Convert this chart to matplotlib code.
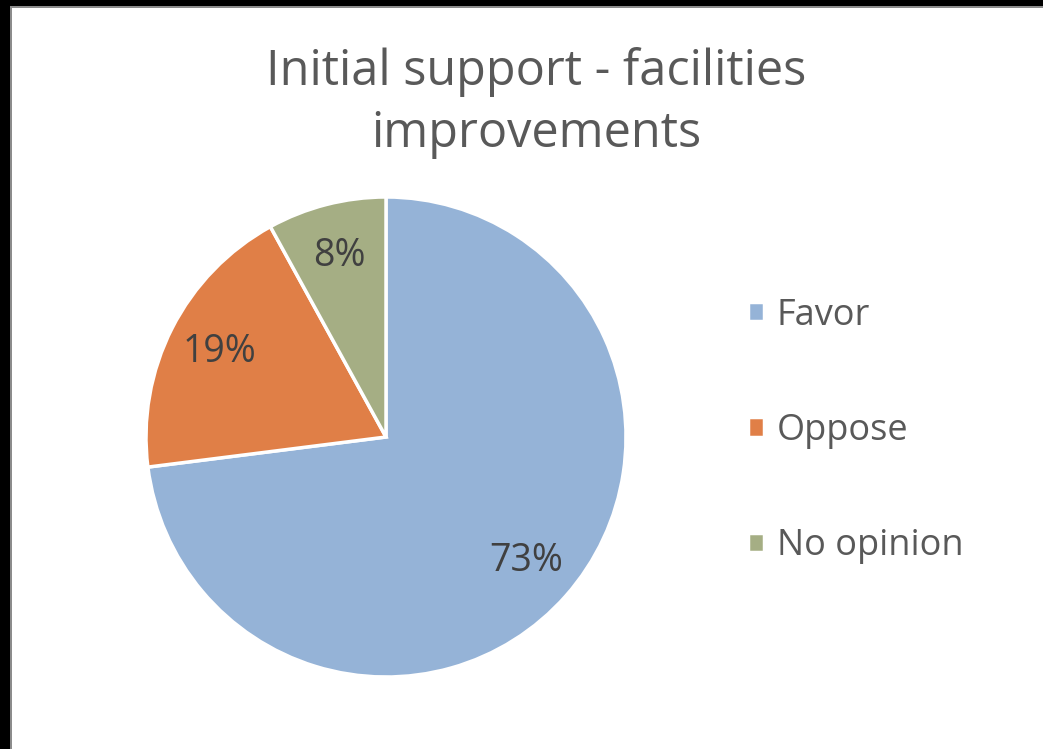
import matplotlib.pyplot as plt
from matplotlib.patches import Rectangle

labels = ["Favor", "Oppose", "No opinion"]
values = [73, 19, 8]
colors = ["#95b3d7", "#e07f47", "#a5ae84"]

W, H = 1043, 749
plt.rcParams['font.family'] = ['Open Sans', 'DejaVu Sans']

fig = plt.figure(figsize=(W / 100, H / 100), dpi=100)

# black frame on the top and left like in the screenshot
fig.add_artist(Rectangle((0, 1 - 6 / H), 1, 6 / H, transform=fig.transFigure,
                         facecolor='black', linewidth=0))
fig.add_artist(Rectangle((10 / W, 1 - 8 / H), 1, 2 / H, transform=fig.transFigure,
                         facecolor='#8c8c8c', linewidth=0))
fig.add_artist(Rectangle((0, 0), 10 / W, 1, transform=fig.transFigure,
                         facecolor='black', linewidth=0))
fig.add_artist(Rectangle((10 / W, 0), 2 / W, 1 - 6 / H, transform=fig.transFigure,
                         facecolor='#8c8c8c', linewidth=0))

# pie: centre (386, 437) px, radius 240 px
ax = fig.add_axes([146 / W, 72 / H, 480 / W, 480 / H])
wedges, texts, autotexts = ax.pie(
    values, colors=colors, startangle=90, counterclock=False,
    autopct='%d%%', pctdistance=0.78,
    wedgeprops=dict(edgecolor='white', linewidth=2.5),
    textprops=dict(color='#404040', fontsize=27))
ax.set_xlim(-1, 1)
ax.set_ylim(-1, 1)
ax.set_aspect('equal')

fig.text(536 / W, 1 - 103 / H, "Initial support - facilities\nimprovements",
         ha='center', va='center', fontsize=35, color='#595959', linespacing=1.32)

fig.legend(wedges, labels, loc='center left', bbox_to_anchor=(748 / W, 1 - 431 / H),
           frameon=False, fontsize=26, labelcolor='#595959', borderpad=0, borderaxespad=0,
           handlelength=0.45, handleheight=0.45, handletextpad=0.35, labelspacing=2.2)

fig.savefig("out.png", dpi=100)
